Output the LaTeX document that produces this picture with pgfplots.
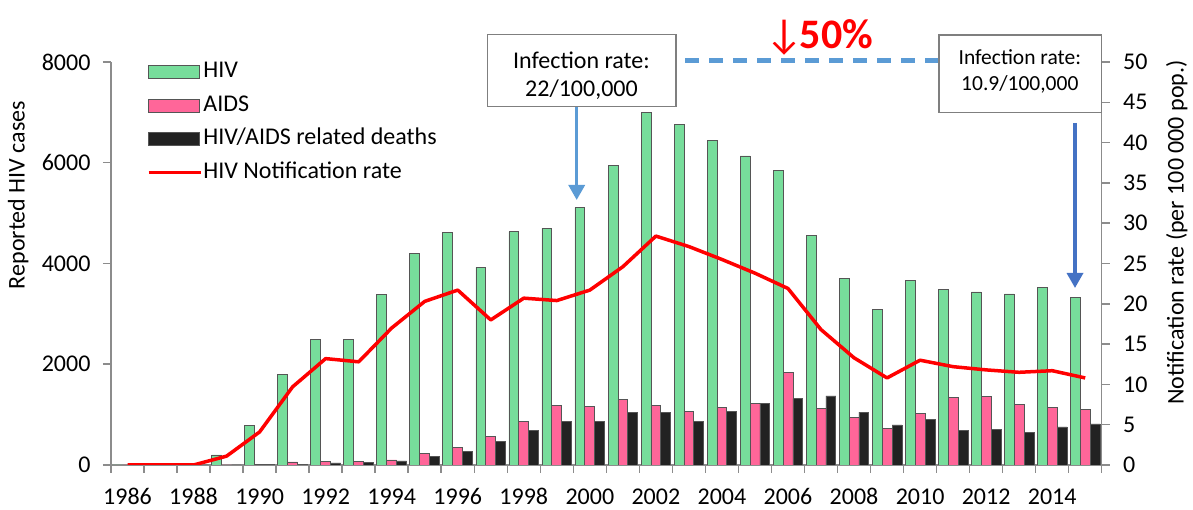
\documentclass[border=0pt]{standalone}
\usepackage{fontspec}
\setmainfont{Carlito}
\usepackage{pgfplots}
\usepackage{pgfplotstable}
\pgfplotsset{compat=1.18}
\usetikzlibrary{arrows.meta}

\definecolor{hivgreen}{HTML}{77DD9B}
\definecolor{aidspink}{HTML}{FF6699}
\definecolor{deathblack}{HTML}{222222}
\definecolor{edgegray}{HTML}{555555}
\definecolor{axgray}{HTML}{8C8C8C}
\definecolor{annblue}{HTML}{5B9BD5}
\definecolor{annblue2}{HTML}{4472C4}
\definecolor{boxgray}{HTML}{7F7F7F}

\pgfplotstableread{
year hiv aids deaths rate
1986 0 0 0 0
1987 0 0 0 0
1988 0 0 0 0
1989 200 0 0 1.1
1990 780 15 5 4.1
1991 1790 60 15 9.7
1992 2500 70 40 13.2
1993 2500 75 45 12.8
1994 3390 100 80 17.0
1995 4200 230 165 20.3
1996 4610 350 270 21.7
1997 3925 565 470 18.0
1998 4630 870 685 20.7
1999 4695 1185 870 20.4
2000 5110 1160 870 21.7
2001 5950 1300 1050 24.6
2002 6990 1190 1040 28.4
2003 6765 1070 860 27.1
2004 6440 1150 1070 25.5
2005 6135 1215 1225 23.8
2006 5845 1845 1320 21.9
2007 4550 1120 1370 16.8
2008 3695 935 1050 13.3
2009 3085 730 795 10.8
2010 3660 1030 900 13.0
2011 3485 1335 685 12.2
2012 3435 1360 700 11.8
2013 3395 1195 650 11.5
2014 3520 1150 755 11.7
2015 3330 1110 815 10.8
}\datatable

\pgfplotsset{
  barleg/.style={legend image code/.code={\draw[##1,/tikz/.cd] (0pt,-6.5pt) rectangle (51pt,6.5pt);}},
  lineleg/.style={legend image code/.code={\draw[##1,/tikz/.cd] (0pt,0pt) -- (52pt,0pt);}},
  common/.style={
    scale only axis, width=990.7pt, height=403pt,
    xmin=-0.5, xmax=29.5, enlargelimits=false,
    axis line style={axgray, line width=1.5pt},
    tick align=outside, major tick length=8pt, minor tick length=8pt,
    tick style={axgray, line width=1.5pt},
    scaled y ticks=false,
    /pgf/number format/assume math mode=true,
    /pgf/number format/1000 sep={},
    tick label style={font=\fontsize{24}{24}\selectfont},
    label style={font=\fontsize{24}{24}\selectfont},
  }
}

\begin{document}
\begin{tikzpicture}
\begin{axis}[
  common,
  ymin=0, ymax=8000,
  axis x line*=bottom, axis y line*=left,
  ybar=0pt, bar width=9.9pt,
  xtick={0,2,...,28},
  xticklabels={1986,1988,1990,1992,1994,1996,1998,2000,2002,2004,2006,2008,2010,2012,2014},
  minor xtick={-0.5,0.5,...,29.5},
  major x tick style={draw=none},
  ytick={0,2000,4000,6000,8000},
  xticklabel style={yshift=-12pt},
  yticklabel style={xshift=-9pt},
  ylabel={Reported HIV cases},
  ylabel style={at={(axis description cs:-0.0936,0.670)}, anchor=center},
  legend cell align=left,
  legend style={at={(0.036,1.003)}, anchor=north west, draw=none, fill=none,
    inner sep=0pt, row sep=11.5pt, column sep=1pt,
    font=\fontsize{24}{24}\selectfont,
    nodes={inner sep=0pt, text height=17pt, text depth=5pt}},
]
\addplot[barleg, fill=hivgreen, draw=edgegray, line width=0.8pt] table[x expr=\thisrow{year}-1986, y=hiv] {\datatable};
\addlegendentry{HIV}
\addplot[barleg, fill=aidspink, draw=edgegray, line width=0.8pt] table[x expr=\thisrow{year}-1986, y=aids] {\datatable};
\addlegendentry{AIDS}
\addplot[barleg, fill=deathblack, draw=edgegray, line width=0.8pt] table[x expr=\thisrow{year}-1986, y=deaths] {\datatable};
\addlegendentry{HIV/AIDS related deaths}
\addlegendimage{lineleg, red, line width=3.5pt}
\addlegendentry{HIV Notification rate}
\end{axis}
\begin{axis}[
  common,
  ymin=0, ymax=50,
  axis x line=none, axis y line*=right,
  ytick={0,5,...,50},
  yticklabel style={xshift=10pt},
  ylabel={Notification rate (per 100 000 pop.)},
  ylabel style={at={(axis description cs:1.0757,0.577)}, anchor=center},
]
\addplot[red, line width=3.5pt, line join=round, mark=none] table[x expr=\thisrow{year}-1986, y=rate] {\datatable};
\end{axis}

\draw[boxgray, line width=1.5pt, fill=white] (376.7pt,358.3pt) rectangle (565pt,430.7pt);
\node[anchor=base, inner sep=0pt, font=\fontsize{24}{24}\selectfont] at (470.5pt,396.7pt) {Infection rate:};
\node[anchor=base, inner sep=0pt, font=\fontsize{24}{24}\selectfont] at (470.5pt,368.3pt) {22/100,000};
\draw[annblue, line width=3.3pt, -{Triangle[width=16pt,length=15pt]}] (465.7pt,358pt) -- (465.7pt,265pt);
\draw[annblue, line width=5pt, dash pattern=on 14pt off 10pt] (574pt,404pt) -- (829pt,404pt);
\node[anchor=base, inner sep=0pt, text=red, font=\fontsize{42}{42}\selectfont] at (674pt,416pt) {↓};
\node[anchor=base west, inner sep=0pt, text=red, font=\fontsize{42}{42}\selectfont\bfseries] at (688.5pt,416pt) {50\%};
\draw[boxgray, line width=1.5pt, fill=white] (828pt,352.3pt) rectangle (990.7pt,430pt);
\node[anchor=base, inner sep=0pt, font=\fontsize{21.5}{21.5}\selectfont] at (908.8pt,400pt) {Infection rate:};
\node[anchor=base, inner sep=0pt, font=\fontsize{21.5}{21.5}\selectfont] at (908.8pt,374.3pt) {10.9/100,000};
\draw[annblue2, line width=3.3pt, -{Triangle[width=16pt,length=15pt]}] (964pt,342pt) -- (964pt,177pt);

\pgfresetboundingbox
\path (-111pt,-45pt) rectangle (1082pt,465pt);
\end{tikzpicture}
\end{document}
